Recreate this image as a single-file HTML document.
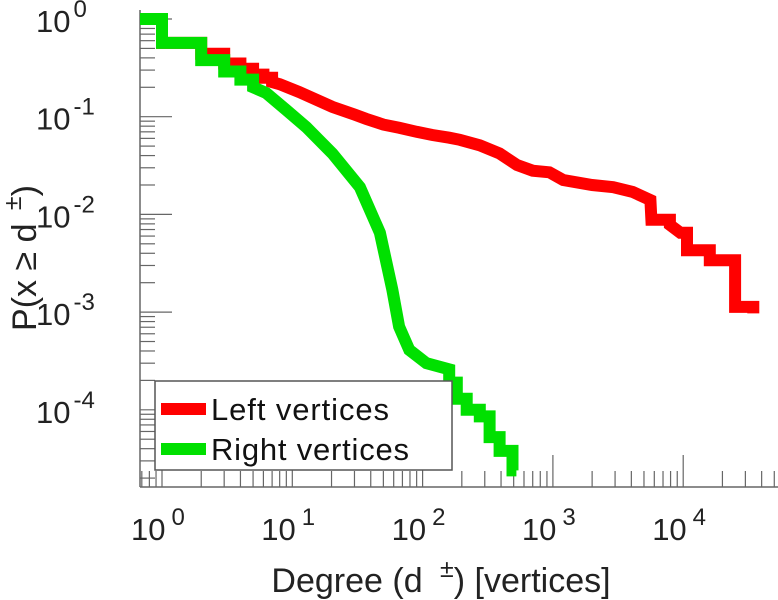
<!DOCTYPE html>
<html><head><meta charset="utf-8"><style>
body{margin:0;background:#fff}
svg{display:block;font-family:"Liberation Sans",sans-serif}
</style></head><body>
<svg id="chart" width="778" height="600" viewBox="0 0 778 600" xmlns="http://www.w3.org/2000/svg">
<g id="axes"></g>
<g id="series"></g>
<text x="441" y="592" font-size="34" text-anchor="middle" fill="#222">Degree (d <tspan dx="8" dy="-15" font-size="25">±</tspan><tspan dy="15">) [vertices]</tspan></text>
<text transform="translate(36,258) rotate(-90)" font-size="34" text-anchor="middle" fill="#222">P(x  ≥  d <tspan dx="4" dy="-15" font-size="25">±</tspan><tspan dy="15">)</tspan></text>
<g>
<rect x="155" y="381" width="297" height="89" fill="#fff" stroke="#555" stroke-width="1.5"/>
<line x1="161" y1="409" x2="206" y2="409" stroke="#ff0000" stroke-width="12"/>
<text x="211" y="420" font-size="31" fill="#111" textLength="178">Left vertices</text>
<line x1="161" y1="449" x2="206" y2="449" stroke="#00e000" stroke-width="12"/>
<text x="211" y="460" font-size="31" fill="#111" textLength="198">Right vertices</text>
</g>
</svg>
<script>
const leftDeg=[0.67,1,1,2,2,3,3,4,4,5,5,6,6,7,7,8,11.3,20.3,30,37,50,66,90,119,160,193,275,390,530,700,940,1200,2000,2900,4100,5600,5700,7900,7900,9500,10700,10700,16000,16000,25000,25000,34500,34500];
const leftP=[1,1,0.57,0.57,0.44,0.44,0.35,0.35,0.31,0.31,0.27,0.27,0.25,0.25,0.226,0.215,0.179,0.126,0.105,0.095,0.083,0.077,0.07,0.065,0.061,0.058,0.051,0.042,0.032,0.028,0.027,0.0225,0.020,0.019,0.017,0.014,0.0088,0.0088,0.0078,0.0065,0.0065,0.0043,0.0043,0.0034,0.0034,0.00113,0.00113,0.00097];
const rightDeg=[0.67,1,1,2,2,3,3,4,4,5,5,6.3,9,12.8,20.3,33,47,58.5,66,79,107,160,160,183,183,218,218,275,275,327,327,390,390,490,490,525];
const rightP=[1,1,0.57,0.57,0.38,0.38,0.29,0.29,0.24,0.24,0.2,0.175,0.117,0.078,0.042,0.019,0.0065,0.0017,0.00071,0.00041,0.00030,0.00026,0.00019,0.00019,0.00013,0.00013,0.0001,0.0001,0.0000855,0.0000855,0.0000525,0.0000525,0.000038,0.000038,0.000024,0.000024];
const xTicks=[0,1,2,3,4];
const yTicks=[0,-1,-2,-3,-4];
const NS="http://www.w3.org/2000/svg";
const X0=162,DX=130.3,Y0=19,DY=97.7,LEFT=140,BOTTOM=487,RIGHT=778;
function xs(d){return X0+Math.log10(d)*DX;}
function ys(p){return Y0-Math.log10(p)*DY;}
function mk(tag,attrs,parent){const e=document.createElementNS(NS,tag);for(const k in attrs)e.setAttribute(k,attrs[k]);parent.appendChild(e);return e;}
const axes=document.getElementById('axes');
const ax1=mk('line',{x1:LEFT,y1:10,x2:LEFT,y2:BOTTOM,stroke:'#666','stroke-width':1.5},axes);


const ax2=mk('line',{x1:LEFT,y1:BOTTOM,x2:RIGHT,y2:BOTTOM,stroke:'#666','stroke-width':1.5},axes);


for(let e=-1;e<=4;e++){for(let m=1;m<10;m++){const x=xs(m*Math.pow(10,e));if(x<LEFT||x>RIGHT)continue;const len=m===1?32:16;
const t=mk('line',{x1:x,y1:BOTTOM,x2:x,y2:BOTTOM-len,stroke:'#666','stroke-width':1.2},axes);

}}
xTicks.forEach(e=>{const x=xs(Math.pow(10,e));
const t=mk('text',{x:x-31,y:540,'font-size':31,fill:'#222'},axes);


t.innerHTML='10<tspan dx="6" dy="-15" font-size="24">'+e+'</tspan>';});
for(let e=-5;e<=0;e++){for(let m=1;m<10;m++){const y=ys(m*Math.pow(10,e));if(y<10||y>BOTTOM)continue;const len=m===1?32:15;
const t=mk('line',{x1:LEFT,y1:y,x2:LEFT+len,y2:y,stroke:'#666','stroke-width':1.2},axes);

}}
yTicks.forEach(e=>{const y=ys(Math.pow(10,e));
const t=mk('text',{x:36,y:y+13,'font-size':31,fill:'#222'},axes);


t.innerHTML='10<tspan dx="3" dy="-15" font-size="24">'+(e===0?'0':e)+'</tspan>';});
const series=document.getElementById('series');
const cp=mk('clipPath',{id:'clip'},series);
mk('rect',{x:LEFT,y:0,width:RIGHT-LEFT,height:BOTTOM},cp);
function draw(ds,ps,color,name){const pts=ds.map((d,i)=>xs(d).toFixed(1)+','+ys(ps[i]).toFixed(1)).join(' ');
const l=mk('polyline',{points:pts,fill:'none',stroke:color,'stroke-width':12,'stroke-linejoin':'miter','clip-path':'url(#clip)'},series);

}
draw(leftDeg,leftP,'#ff0000','left-vertices-line');
draw(rightDeg,rightP,'#00e000','right-vertices-line');
</script>
</body></html>
